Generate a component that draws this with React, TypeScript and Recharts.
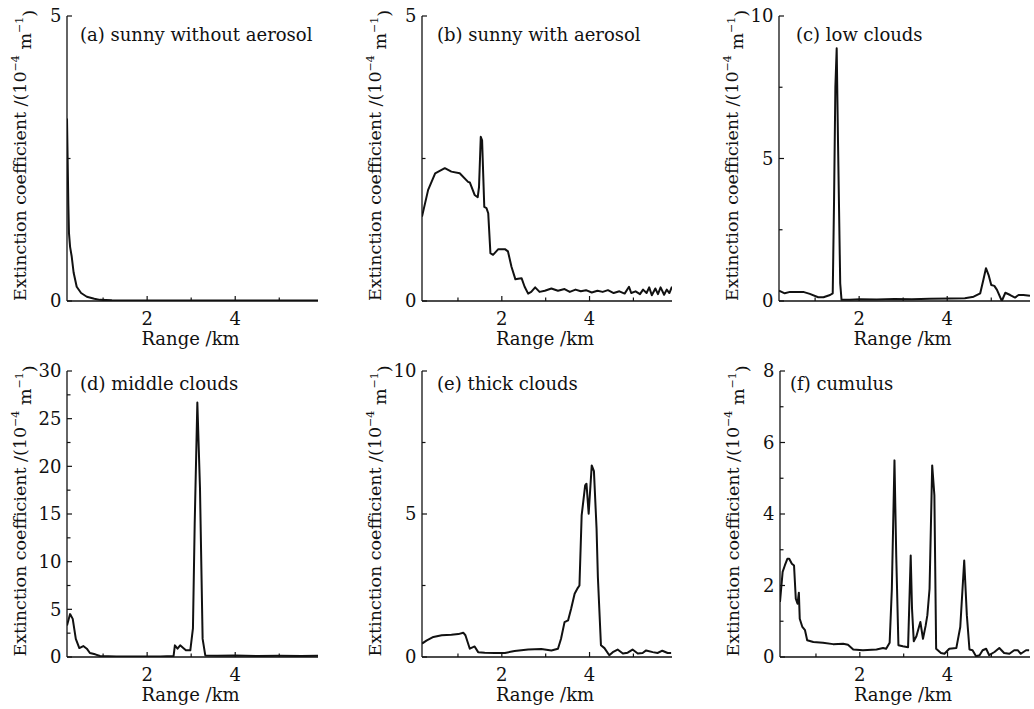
import React from 'react';
import { LineChart, Line, XAxis, YAxis } from 'recharts';

// (a) sunny without aerosol
const rangeA = [0.18, 0.195, 0.21, 0.225, 0.25, 0.287, 0.33, 0.4, 0.5, 0.63, 0.8, 0.93, 1.2, 1.6, 2.0, 3.0, 4.0, 5.0, 5.88];
const extA = [3.2, 2.47, 1.7, 1.19, 0.95, 0.78, 0.5, 0.25, 0.14, 0.075, 0.04, 0.02, 0.012, 0.01, 0.01, 0.01, 0.01, 0.01, 0.01];

// (b) sunny with aerosol
const rangeB = [0.18, 0.32, 0.48, 0.7, 0.85, 1.04, 1.23, 1.27, 1.38, 1.45, 1.48, 1.52, 1.55, 1.6, 1.65, 1.69, 1.74, 1.8, 1.92, 2.07, 2.14, 2.22, 2.31, 2.37, 2.45, 2.52, 2.6, 2.67, 2.76, 2.86, 2.98, 3.13, 3.28, 3.43, 3.55, 3.68, 3.8, 3.92, 4.05, 4.18, 4.3, 4.42, 4.55, 4.68, 4.8, 4.9, 4.95, 5.05, 5.15, 5.22, 5.3, 5.36, 5.42, 5.5, 5.56, 5.62, 5.7, 5.76, 5.82, 5.88];
const extB = [1.48, 1.95, 2.24, 2.33, 2.27, 2.24, 2.09, 2.08, 1.86, 1.82, 2.0, 2.88, 2.82, 1.65, 1.63, 1.54, 0.84, 0.81, 0.91, 0.91, 0.87, 0.6, 0.38, 0.39, 0.4, 0.25, 0.13, 0.16, 0.24, 0.16, 0.18, 0.22, 0.18, 0.21, 0.16, 0.2, 0.17, 0.19, 0.15, 0.18, 0.16, 0.19, 0.14, 0.17, 0.13, 0.25, 0.14, 0.17, 0.12, 0.2, 0.14, 0.24, 0.1, 0.22, 0.12, 0.24, 0.11, 0.2, 0.14, 0.25];

// (c) low clouds
const rangeC = [0.18, 0.31, 0.43, 0.73, 0.88, 1.07, 1.19, 1.34, 1.4, 1.43, 1.46, 1.49, 1.52, 1.57, 1.6, 1.79, 2.02, 2.4, 2.8, 3.2, 3.6, 4.07, 4.4, 4.6, 4.75, 4.82, 4.88, 4.94, 5.0, 5.07, 5.13, 5.24, 5.32, 5.43, 5.54, 5.62, 5.73, 5.88];
const extC = [0.36, 0.27, 0.32, 0.32, 0.25, 0.13, 0.13, 0.21, 0.27, 3.5, 7.5, 8.87, 5.6, 0.62, 0.04, 0.04, 0.06, 0.05, 0.07, 0.06, 0.08, 0.09, 0.1, 0.15, 0.27, 0.74, 1.15, 0.91, 0.56, 0.53, 0.39, 0.0, 0.29, 0.21, 0.12, 0.21, 0.21, 0.18];

// (d) middle clouds
const rangeD = [0.18, 0.25, 0.31, 0.38, 0.46, 0.55, 0.63, 0.7, 0.82, 0.93, 1.3, 1.8, 2.3, 2.6, 2.63, 2.69, 2.75, 2.82, 2.88, 2.98, 3.04, 3.08, 3.14, 3.2, 3.26, 3.32, 3.6, 4.0, 4.5, 5.0, 5.5, 5.88];
const extD = [3.3, 4.5, 4.0, 1.9, 0.94, 1.15, 0.87, 0.42, 0.28, 0.1, 0.06, 0.05, 0.06, 0.1, 1.22, 0.87, 1.22, 0.94, 0.7, 0.7, 3.0, 14, 26.7, 17.7, 1.9, 0.17, 0.12, 0.15, 0.1, 0.12, 0.1, 0.12];

// (e) thick clouds
const rangeE = [0.18, 0.29, 0.44, 0.63, 0.85, 1.01, 1.12, 1.17, 1.27, 1.38, 1.46, 1.61, 1.84, 2.07, 2.29, 2.6, 2.9, 3.13, 3.28, 3.35, 3.43, 3.51, 3.58, 3.66, 3.73, 3.77, 3.82, 3.9, 3.93, 3.98, 4.05, 4.1, 4.16, 4.19, 4.26, 4.34, 4.45, 4.53, 4.64, 4.76, 4.87, 4.98, 5.1, 5.21, 5.29, 5.44, 5.55, 5.66, 5.78, 5.86];
const extE = [0.47, 0.58, 0.7, 0.76, 0.78, 0.8, 0.85, 0.76, 0.29, 0.37, 0.17, 0.15, 0.14, 0.14, 0.21, 0.26, 0.28, 0.23, 0.29, 0.64, 1.22, 1.28, 1.69, 2.21, 2.41, 2.5, 4.95, 6.0, 6.06, 5.01, 6.7, 6.5, 4.49, 2.8, 0.41, 0.31, 0.06, 0.17, 0.26, 0.12, 0.15, 0.26, 0.12, 0.14, 0.23, 0.17, 0.14, 0.22, 0.14, 0.14];

// (f) cumulus
const rangeF = [0.18, 0.24, 0.29, 0.35, 0.39, 0.45, 0.5, 0.54, 0.58, 0.61, 0.63, 0.69, 0.75, 0.8, 0.94, 1.16, 1.39, 1.62, 1.73, 1.85, 2.07, 2.38, 2.53, 2.6, 2.68, 2.73, 2.79, 2.83, 2.88, 2.98, 3.1, 3.16, 3.19, 3.23, 3.29, 3.38, 3.44, 3.5, 3.54, 3.59, 3.65, 3.7, 3.74, 3.85, 3.93, 4.04, 4.2, 4.29, 4.38, 4.44, 4.5, 4.57, 4.65, 4.73, 4.8, 4.88, 4.95, 5.07, 5.18, 5.29, 5.41, 5.52, 5.6, 5.67, 5.79, 5.86];
const extF = [1.54, 2.38, 2.56, 2.75, 2.75, 2.61, 2.56, 1.63, 1.49, 1.8, 1.07, 0.84, 0.75, 0.47, 0.42, 0.4, 0.36, 0.37, 0.34, 0.21, 0.19, 0.21, 0.25, 0.23, 0.4, 1.9, 5.5, 2.84, 0.33, 0.3, 0.27, 2.84, 1.35, 0.44, 0.58, 0.98, 0.51, 0.87, 1.17, 1.91, 5.36, 4.52, 0.23, 0.11, 0.09, 0.23, 0.25, 0.84, 2.7, 1.17, 0.21, 0.19, 0.02, 0.05, 0.19, 0.23, 0.05, 0.14, 0.25, 0.11, 0.09, 0.19, 0.19, 0.09, 0.19, 0.19];

const titles = ['(a) sunny without aerosol', '(b) sunny with aerosol', '(c) low clouds', '(d) middle clouds', '(e) thick clouds', '(f) cumulus'];
const yMaxes = [5, 5, 10, 30, 10, 8];
const yMajors = [[0, 5], [0, 5], [0, 5, 10], [0, 5, 10, 15, 20, 25, 30], [0, 5, 10], [0, 2, 4, 6, 8]];
const yMinors = [[2.5], [2.5], [2.5, 7.5], [2.5, 7.5, 12.5, 17.5, 22.5, 27.5], [2.5, 7.5], [1, 3, 5, 7]];
const xMajor = [2, 4];
const xMinor = [1, 3, 5];

const FONT = '"DejaVu Serif", serif';
const INK = '#111';
const YW = 60;
const XH = 50;

// panel boxes: chart position/size, plot edges, title offset and baseline (panel-relative)
const layout = [
  { left: 0, top: 0, w: 345, h: 355, pl: 67, pr: 318, pt: 16, pb: 301, tdx: 13, ty: 41 },
  { left: 345, top: 0, w: 345, h: 355, pl: 77, pr: 327, pt: 16, pb: 301, tdx: 15, ty: 41 },
  { left: 690, top: 0, w: 344, h: 355, pl: 89, pr: 340, pt: 16, pb: 301, tdx: 17, ty: 41 },
  { left: 0, top: 355, w: 345, h: 354, pl: 67, pr: 318, pt: 16, pb: 302, tdx: 13, ty: 35 },
  { left: 345, top: 355, w: 345, h: 354, pl: 77, pr: 327, pt: 16, pb: 302, tdx: 15, ty: 35 },
  { left: 690, top: 355, w: 344, h: 354, pl: 90, pr: 340, pt: 16, pb: 302, tdx: 10, ty: 35 },
];

const series = [[rangeA, extA], [rangeB, extB], [rangeC, extC], [rangeD, extD], [rangeE, extE], [rangeF, extF]];

const XTick = (props: any) => {
  const { x, y, payload } = props;
  const major = xMajor.includes(payload.value);
  return (
    <g>
      <line x1={x} x2={x} y1={y} y2={y - (major ? 5 : 3.5)} stroke={INK} strokeWidth={1.2} />
      {major && (
        <text x={x} y={y + 24} textAnchor="middle" fontFamily={FONT} fontSize={18} fill={INK}>
          {payload.value}
        </text>
      )}
    </g>
  );
};

const makeYTick = (majors: number[]) => (props: any) => {
  const { x, y, payload } = props;
  const major = majors.includes(payload.value);
  return (
    <g>
      <line x1={x} x2={x + (major ? 5 : 3.5)} y1={y} y2={y} stroke={INK} strokeWidth={1.2} />
      {major && (
        <text x={x - 5.5} y={y} dy="0.36em" textAnchor="end" fontFamily={FONT} fontSize={18} fill={INK}>
          {payload.value}
        </text>
      )}
    </g>
  );
};

const YTitle = (props: any) => {
  const vb = props.viewBox || {};
  const cx = vb.x + vb.width - 47;
  const cy = vb.y + vb.height / 2 - 3;
  return (
    <text
      x={cx}
      y={cy}
      transform={`rotate(-90 ${cx} ${cy})`}
      textAnchor="middle"
      dy="0.36em"
      fontFamily={FONT}
      fontSize={17.5}
      fill={INK}
    >
      Extinction coefficient /(10
      <tspan fontSize={11} dy="-0.7em">−4</tspan>
      <tspan dy="0.7em"> m</tspan>
      <tspan fontSize={11} dy="-0.7em">−1</tspan>
      <tspan dy="0.7em">)</tspan>
    </text>
  );
};

const XTitle = (props: any) => {
  const vb = props.viewBox || {};
  return (
    <text x={vb.x + vb.width / 2 - 2} y={vb.y + 44} textAnchor="middle" fontFamily={FONT} fontSize={18} fill={INK}>
      Range /km
    </text>
  );
};

const Panel = ({ i }: { i: number }) => {
  const L = layout[i];
  const [xs, ys] = series[i];
  const data = xs.map((r, k) => ({ r, v: ys[k] }));
  const yTicks = [...yMajors[i], ...yMinors[i]].sort((a, b) => a - b);
  const margin = { top: L.pt, right: L.w - L.pr, bottom: L.h - L.pb - XH, left: L.pl - YW };
  return (
    <div style={{ position: 'absolute', left: L.left, top: L.top, width: L.w, height: L.h }}>
      <LineChart width={L.w} height={L.h} data={data} margin={margin}>
        <XAxis
          type="number"
          dataKey="r"
          domain={[0.18, 5.88]}
          allowDataOverflow
          ticks={[...xMinor, ...xMajor].sort((a, b) => a - b)}
          interval={0}
          tickSize={0}
          tickMargin={0}
          tickLine={false}
          tick={<XTick />}
          axisLine={{ stroke: INK, strokeWidth: 1.3 }}
          height={XH}
          label={{ content: (p: any) => <XTitle {...p} /> }}
        />
        <YAxis
          type="number"
          domain={[0, yMaxes[i]]}
          allowDataOverflow
          ticks={yTicks}
          interval={0}
          tickSize={0}
          tickMargin={0}
          tickLine={false}
          tick={makeYTick(yMajors[i])}
          axisLine={{ stroke: INK, strokeWidth: 1.3 }}
          width={YW}
          label={{ content: (p: any) => <YTitle {...p} /> }}
        />
        <Line
          type="linear"
          dataKey="v"
          stroke={INK}
          strokeWidth={2}
          dot={false}
          isAnimationActive={false}
          strokeLinejoin="round"
        />
      </LineChart>
      <svg style={{ position: 'absolute', left: 0, top: 0, pointerEvents: 'none' }} width={L.w} height={L.h}>
        <text x={L.pl + L.tdx} y={L.ty} fontFamily={FONT} fontSize={18} fill={INK}>
          {titles[i]}
        </text>
      </svg>
    </div>
  );
};

export default function App() {
  return (
    <div style={{ position: 'absolute', left: 0, top: 0, width: 1034, height: 709, background: '#fff' }}>
      {[0, 1, 2, 3, 4, 5].map((i) => (
        <Panel key={i} i={i} />
      ))}
    </div>
  );
}
